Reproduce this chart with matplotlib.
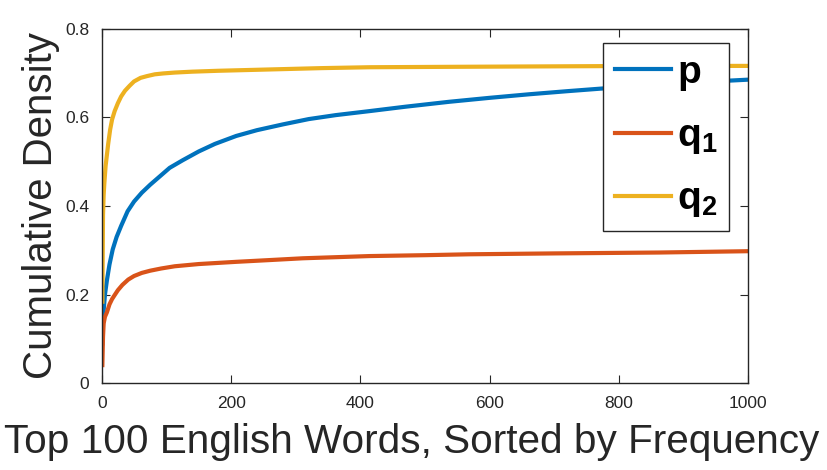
import matplotlib
matplotlib.use("Agg")
import matplotlib.pyplot as plt
from matplotlib.lines import Line2D

plt.rcParams['font.family'] = ['Liberation Sans', 'DejaVu Sans']
plt.rcParams['mathtext.fontset'] = 'custom'
plt.rcParams['mathtext.rm'] = 'Liberation Sans'
plt.rcParams['mathtext.bf'] = 'Liberation Sans:bold'
plt.rcParams['mathtext.it'] = 'Liberation Sans:italic'

# ---- data ----
p_x = [1, 2, 3, 5, 8, 12, 17, 23, 30, 40, 50, 62, 75, 90, 105, 125, 150, 175, 208, 240,
       280, 320, 362, 414, 470, 537, 600, 661, 720, 774, 840, 900, 960, 1000]
p_y = [0.09, 0.135, 0.165, 0.200, 0.232, 0.268, 0.302, 0.330, 0.355, 0.388, 0.410, 0.430,
       0.448, 0.467, 0.486, 0.503, 0.523, 0.540, 0.558, 0.571, 0.584, 0.596, 0.605, 0.614,
       0.624, 0.635, 0.644, 0.652, 0.659, 0.665, 0.671, 0.677, 0.682, 0.685]

q1_x = [1, 2, 3, 5, 8, 12, 16, 20, 25, 32, 41, 50, 62, 75, 92, 113, 150, 208, 260, 311,
        414, 500, 568, 700, 862, 1000]
q1_y = [0.041, 0.105, 0.135, 0.150, 0.160, 0.178, 0.190, 0.199, 0.210, 0.222, 0.234, 0.242,
        0.249, 0.254, 0.259, 0.264, 0.269, 0.274, 0.278, 0.282, 0.287, 0.289, 0.291, 0.293,
        0.295, 0.298]

q2_x = [1, 2, 3, 4, 6, 8, 10, 13, 16, 20, 25, 30, 36, 43, 50, 60, 70, 82, 95, 113, 140,
        180, 260, 340, 414, 550, 700, 850, 1000]
q2_y = [0.184, 0.38, 0.425, 0.45, 0.49, 0.515, 0.540, 0.572, 0.595, 0.614, 0.632, 0.647,
        0.660, 0.671, 0.681, 0.689, 0.693, 0.697, 0.699, 0.701, 0.703, 0.705, 0.708, 0.711,
        0.713, 0.714, 0.715, 0.716, 0.716]

labels = [r'$\mathbf{p}$', r'$\mathbf{q_1}$', r'$\mathbf{q_2}$']
colors = ['#0072BD', '#D95319', '#EDB120']
x_ticks = [0, 200, 400, 600, 800, 1000]
y_ticks = [0, 0.2, 0.4, 0.6, 0.8]
y_ticklabels = ['0', '0.2', '0.4', '0.6', '0.8']

fig = plt.figure(figsize=(8.27, 4.70), dpi=100)
ax = fig.add_axes([0.123, 0.1845, 0.782, 0.7545])

for xs, ys, c, lab in zip([p_x, q1_x, q2_x], [p_y, q1_y, q2_y], colors, labels):
    ax.plot(xs, ys, color=c, lw=3, label=lab, solid_joinstyle='round')

ax.set_xlim(0, 1000)
ax.set_ylim(0, 0.8)
ax.set_xticks(x_ticks)
ax.set_yticks(y_ticks)
ax.set_yticklabels(y_ticklabels)
edge = '#262626'
for s in ax.spines.values():
    s.set_color(edge)
    s.set_linewidth(1.0)
ax.tick_params(direction='in', length=6, width=0.8, colors=edge, labelsize=12.5,
               top=True, right=True)
ax.tick_params(axis='x', pad=9)
ax.tick_params(axis='y', pad=9)
for t in ax.get_xticklabels() + ax.get_yticklabels():
    t.set_color('#262626')

ax.set_xlabel('Top 100 English Words, Sorted by Frequency', fontsize=29.2, color='#262626',
              labelpad=9, x=0.479)
ax.set_ylabel('Cumulative Density', fontsize=29, color='#262626', labelpad=4)

handles = [Line2D([0], [0], color=c, lw=3) for c in colors]
leg = ax.legend(handles, labels, loc='upper left', bbox_to_anchor=(0.775, 0.959),
                fontsize=28, frameon=True, fancybox=False, edgecolor='#262626',
                framealpha=1.0, handlelength=1.45, handletextpad=0.15, labelspacing=0.65,
                borderpad=0.3, borderaxespad=0)
leg.get_frame().set_linewidth(1.0)

fig.savefig('out.png', dpi=100, facecolor='white')
